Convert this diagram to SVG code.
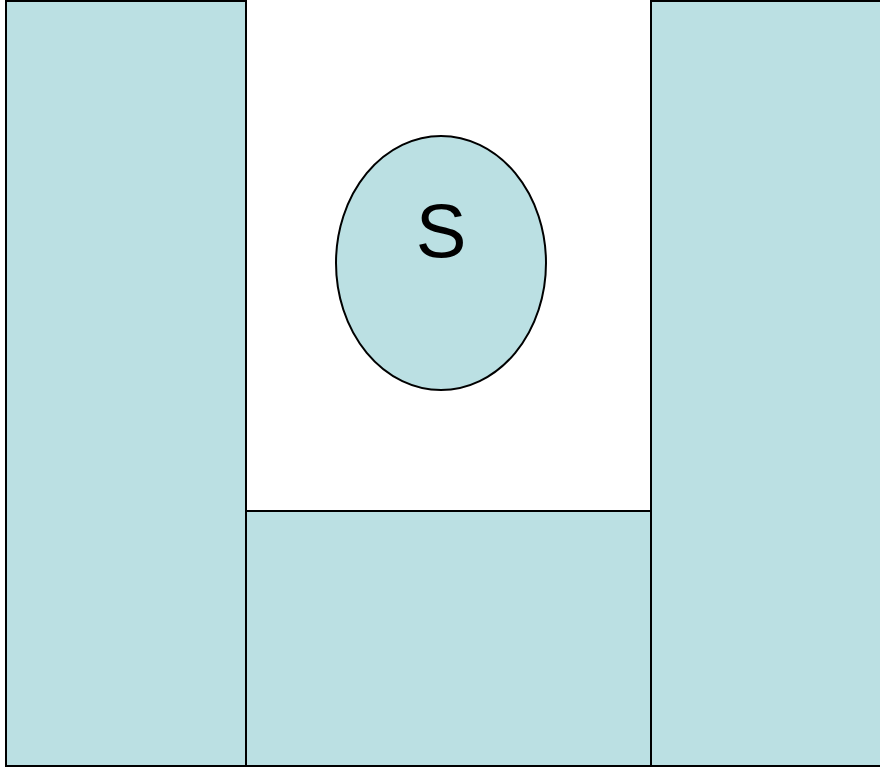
<svg xmlns="http://www.w3.org/2000/svg" width="880" height="768" viewBox="0 0 880 768">
<style>
.p{fill:#BBE0E3;stroke:#000;stroke-width:2}
.t{font-family:"Liberation Sans",Arial,sans-serif;font-size:76px;fill:#000;text-anchor:middle}
</style>
<rect width="880" height="768" fill="#fff"/>
<g id="left"><rect class="p" x="6" y="1" width="240" height="765"/></g>
<g id="bottom"><rect class="p" x="246" y="511" width="405" height="255"/></g>
<g id="right"><rect class="p" x="651" y="1" width="240" height="765"/></g>
<g id="s"><ellipse class="p" cx="441" cy="263" rx="105" ry="127"/><text class="t" x="441" y="257">S</text></g>
<g id="connectors"/>
</svg>
